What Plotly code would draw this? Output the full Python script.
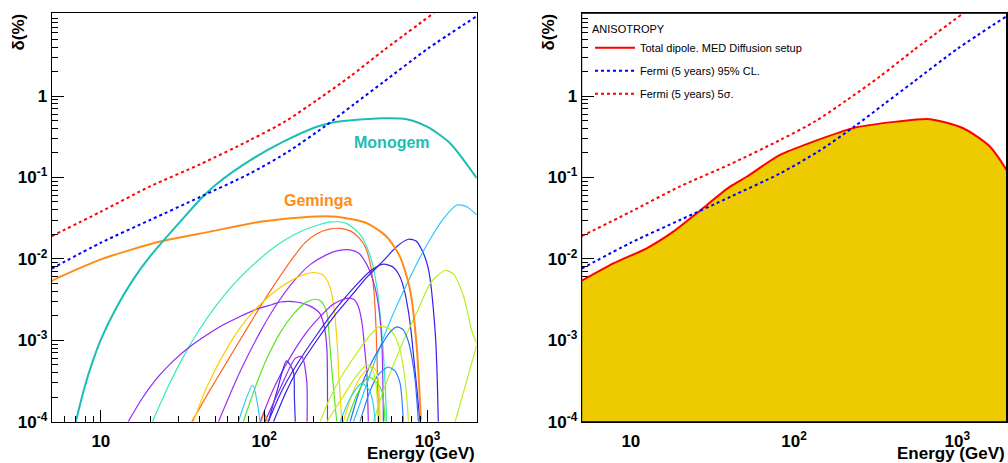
import plotly.graph_objects as go
import math

# ---------------- data (energy in GeV, dipole anisotropy delta in %) ----------------
fermi95_E = [5, 10, 20, 40.5, 82, 141, 236, 355, 536, 1000, 2000]
fermi95_d = [0.0076, 0.0158, 0.030, 0.0575, 0.112, 0.209, 0.427, 0.794, 1.48, 3.8, 9.55]

fermi5s_E = [5, 10, 20, 40.5, 82, 135, 210, 336, 537, 1096]
fermi5s_d = [0.019, 0.038, 0.0776, 0.145, 0.288, 0.49, 0.89, 1.74, 3.63, 10.5]

monogem_E = [7.02, 7.94, 8.91, 10, 12.6, 15.8, 20, 25.3, 32, 40.5, 51.2, 82, 131, 210, 263, 331, 537, 746,
             1000, 1374, 2000]
monogem_d = [1e-4, 2.63e-4, 5.5e-4, 1.02e-3, 2.63e-3, 5.6e-3, 0.0107, 0.0186, 0.0316, 0.0537, 0.0832, 0.162,
             0.275, 0.42, 0.473, 0.50, 0.533, 0.519, 0.417, 0.263, 0.098]

geminga_E = [5, 5.62, 9.9, 23, 46.6, 94.4, 191, 278, 425, 562, 679, 782, 859, 910]
geminga_d = [0.00535, 0.0060, 0.0098, 0.0163, 0.0216, 0.0286, 0.033, 0.033, 0.0274, 0.0187, 0.0106,
             0.00415, 0.00083, 1.05e-4]

total_E = [5, 7.82, 12.5, 18.2, 25.3, 40.5, 51.2, 82, 131, 236, 425, 679, 1086, 1581, 2000]
total_d = [0.0054, 0.00883, 0.0135, 0.0216, 0.0363, 0.077, 0.102, 0.189, 0.275, 0.409, 0.485, 0.519,
           0.402, 0.24, 0.124]

# other nearby pulsars (thin curves)
c01_E = [20.7, 25.1, 31.6, 39.8, 50.1, 63.1, 89.1, 126, 178, 251, 316, 386, 445, 489, 525, 550, 562]
c01_d = [1e-4, 2.4e-4, 6.0e-4, 1.32e-3, 2.57e-3, 4.57e-3, 9.1e-3, 0.0158, 0.0229, 0.0282, 0.0275, 0.020,
         0.011, 4.57e-3, 1.23e-3, 2.95e-4, 1e-4]
c02_E = [36.0, 45.7, 59.0, 75.0, 94.4, 120, 151, 178, 210, 251, 291, 339, 380, 417, 445, 470, 485, 495, 500]
c02_d = [1e-4, 2.29e-4, 5.4e-4, 1.2e-3, 2.57e-3, 5.4e-3, 0.0105, 0.0158, 0.0204, 0.0232, 0.0237, 0.0219,
         0.0182, 0.0138, 8.9e-3, 3.98e-3, 1.26e-3, 3.16e-4, 1e-4]
c03_E = [52.5, 63.1, 74.5, 94.4, 119, 151, 191, 240, 282, 336, 380, 425, 462, 489, 513, 527, 537]
c03_d = [1e-4, 2.4e-4, 5.0e-4, 1.26e-3, 2.75e-3, 5.25e-3, 8.5e-3, 0.0112, 0.0126, 0.0129, 0.0117, 8.5e-3,
         5.6e-3, 3.55e-3, 1.78e-3, 7.9e-4, 1e-4]
c04_E = [14.7, 17.8, 22.4, 28.2, 35.5, 44.7, 56.2, 70.8, 89.1, 112, 126, 158, 191, 219, 234, 242, 244]
c04_d = [1e-4, 1.9e-4, 3.55e-4, 5.75e-4, 8.5e-4, 1.17e-3, 1.55e-3, 1.95e-3, 2.4e-3, 2.75e-3, 2.95e-3,
         2.95e-3, 2.63e-3, 2.14e-3, 1.41e-3, 7.9e-4, 1e-4]
c05_E = [36.8, 44.7, 59.0, 74.1, 94.4, 120, 151, 178, 200, 224, 242, 257, 269, 279, 288, 299]
c05_d = [1e-4, 2.7e-4, 7.9e-4, 1.58e-3, 2.75e-3, 4.17e-3, 5.6e-3, 6.5e-3, 6.8e-3, 6.5e-3, 5.5e-3, 3.98e-3,
         2.24e-3, 1e-3, 3.16e-4, 1e-4]
c06_E = [74.5, 89.1, 104, 126, 151, 178, 205, 224, 242, 251, 263, 278]
c06_d = [1e-4, 2.8e-4, 6.0e-4, 1.26e-3, 2.09e-3, 2.88e-3, 3.19e-3, 3.0e-3, 2.19e-3, 1e-3, 3.16e-4, 1e-4]
c07_E = [114, 135, 158, 210, 269, 336, 427, 537, 646, 764, 851, 944, 1000, 1038, 1084, 1122, 1148, 1164]
c07_d = [1e-4, 2.24e-4, 4.17e-4, 1e-3, 2e-3, 3.39e-3, 6.0e-3, 9.5e-3, 0.0141, 0.0174, 0.0166, 0.0117,
         8.3e-3, 5.6e-3, 2.5e-3, 1e-3, 3.16e-4, 1e-4]
c08_E = [106, 126, 158, 210, 278, 355, 447, 537, 617, 679, 724, 764, 794, 822, 861, 899]
c08_d = [1e-4, 2.24e-4, 5.0e-4, 1.17e-3, 2.51e-3, 4.47e-3, 7.1e-3, 8.6e-3, 7.9e-3, 6.0e-3, 3.98e-3, 2.24e-3,
         1.26e-3, 6.3e-4, 2.5e-4, 1e-4]
c09_E = [94.4, 115, 151, 182, 220, 263, 320, 355, 376, 398, 412, 425, 434]
c09_d = [1e-4, 2.63e-4, 7.2e-4, 1.26e-3, 1.95e-3, 2.75e-3, 3.28e-3, 3.16e-3, 2.63e-3, 1.58e-3, 7.9e-4,
         3.98e-4, 1e-4]
c10_E = [106, 120, 137, 151, 153, 155]
c10_d = [1e-4, 2.4e-4, 5.6e-4, 4.1e-4, 2e-4, 1e-4]
c11_E = [101, 126, 155, 170, 182, 183]
c11_d = [1e-4, 2.63e-4, 6.0e-4, 6.3e-4, 3.2e-4, 1e-4]
c12_E = [69.5, 85, 94.4]
c12_d = [1e-4, 2.8e-4, 1e-4]
c13_E = [95.5, 100, 104.7]
c13_d = [1e-4, 1.26e-4, 1e-4]
c14_E = [352, 398, 445, 525, 618, 759, 912, 1096, 1259, 1510, 1738, 2000]
c14_d = [1e-4, 2.0e-4, 3.8e-4, 9.5e-4, 2.14e-3, 5.25e-3, 0.011, 0.0209, 0.0316, 0.0459, 0.0437, 0.0347]
c15_E = [466, 537, 679, 859, 1038, 1148, 1282, 1445, 1656, 1778, 1862, 2000]
c15_d = [1e-4, 2.4e-4, 7.9e-4, 2.19e-3, 5.0e-3, 6.2e-3, 7.2e-3, 6.5e-3, 3.55e-3, 2.0e-3, 1.32e-3, 9.1e-4]
c16_E = [1476, 1738, 2000]
c16_d = [1e-4, 3.2e-4, 8.7e-4]
c17_E = [220, 251, 302, 386, 447, 512, 575, 631, 684, 724, 750, 764]
c17_d = [1e-4, 1.9e-4, 3.8e-4, 7.9e-4, 1.17e-3, 1.48e-3, 1.41e-3, 1.12e-3, 7.1e-4, 3.55e-4, 1.78e-4, 1e-4]
c18_E = [336, 386, 447, 525, 589, 649, 708, 759, 804, 841, 879]
c18_d = [1e-4, 2.5e-4, 5.0e-4, 8.9e-4, 1.26e-3, 1.46e-3, 1.35e-3, 1e-3, 6.0e-4, 3.16e-4, 1e-4]
c19_E = [386, 445, 501, 575, 631, 679, 711]
c19_d = [1e-4, 2.4e-4, 3.8e-4, 4.7e-4, 4.2e-4, 2.95e-4, 1e-4]
c20_E = [305, 352, 398, 455, 484, 500, 512]
c20_d = [1e-4, 2.4e-4, 3.8e-4, 4.8e-4, 4.2e-4, 3.16e-4, 1e-4]
c21_E = [320, 372, 434, 490, 525, 550]
c21_d = [1e-4, 2.2e-4, 3.55e-4, 3.0e-4, 2.4e-4, 1e-4]
c22_E = [291, 339, 395, 437, 462, 478]
c22_d = [1e-4, 2.0e-4, 2.95e-4, 2.5e-4, 1.78e-4, 1e-4]
c23_E = [242, 302, 363, 425, 457, 484, 501]
c23_d = [1e-4, 2.0e-4, 3.55e-4, 5.0e-4, 4.5e-4, 2.8e-4, 1e-4]

x_tick_vals = [10, 100, 1000]
x_tick_text = ["10", "10<sup>2</sup>", "10<sup>3</sup>"]
y_tick_vals = [1e-4, 1e-3, 1e-2, 1e-1, 1]
y_tick_text = ["10<sup>-4</sup>", "10<sup>-3</sup>", "10<sup>-2</sup>", "10<sup>-1</sup>", "1"]

E_MIN, E_MAX = 5, 2000
D_MIN, D_MAX = 1e-4, 10.38

# ---------------- styles ----------------
thin_curves = [
    (c01_E, c01_d, "rgb(50,235,190)"),
    (c02_E, c02_d, "rgb(255,100,30)"),
    (c03_E, c03_d, "rgb(150,50,250)"),
    (c04_E, c04_d, "rgb(140,40,250)"),
    (c05_E, c05_d, "rgb(255,205,0)"),
    (c06_E, c06_d, "rgb(90,230,30)"),
    (c07_E, c07_d, "rgb(50,30,240)"),
    (c08_E, c08_d, "rgb(60,30,230)"),
    (c09_E, c09_d, "rgb(160,40,240)"),
    (c10_E, c10_d, "rgb(50,40,240)"),
    (c11_E, c11_d, "rgb(150,40,240)"),
    (c12_E, c12_d, "rgb(40,200,250)"),
    (c13_E, c13_d, "rgb(255,100,30)"),
    (c14_E, c14_d, "rgb(40,200,255)"),
    (c15_E, c15_d, "rgb(180,240,30)"),
    (c16_E, c16_d, "rgb(180,240,30)"),
    (c17_E, c17_d, "rgb(190,240,30)"),
    (c18_E, c18_d, "rgb(40,110,250)"),
    (c19_E, c19_d, "rgb(50,130,250)"),
    (c20_E, c20_d, "rgb(255,210,0)"),
    (c21_E, c21_d, "rgb(80,230,30)"),
    (c22_E, c22_d, "rgb(40,210,240)"),
    (c23_E, c23_d, "rgb(190,240,30)"),
]
MONOGEM_C = "rgb(25,190,180)"
GEMINGA_C = "rgb(255,140,25)"
FILL_C = "rgb(237,203,0)"
FONT = "Liberation Sans, Arial, sans-serif"
DASH = "3px,3px"
SPL = dict(shape="spline", smoothing=0.7)

fig = go.Figure()

# ---------------- left panel ----------------
for E, d, col in thin_curves:
    fig.add_trace(go.Scatter(x=E, y=d, mode="lines", line=dict(color=col, width=1.2, **SPL),
                             showlegend=False, hoverinfo="skip", xaxis="x", yaxis="y"))
fig.add_trace(go.Scatter(x=geminga_E, y=geminga_d, mode="lines", line=dict(color=GEMINGA_C, width=2, **SPL),
                         showlegend=False, xaxis="x", yaxis="y"))
fig.add_trace(go.Scatter(x=monogem_E, y=monogem_d, mode="lines", line=dict(color=MONOGEM_C, width=2, **SPL),
                         showlegend=False, xaxis="x", yaxis="y"))
fig.add_trace(go.Scatter(x=fermi95_E, y=fermi95_d, mode="lines", line=dict(color="blue", width=2, dash=DASH, **SPL),
                         showlegend=False, xaxis="x", yaxis="y"))
fig.add_trace(go.Scatter(x=fermi5s_E, y=fermi5s_d, mode="lines", line=dict(color="red", width=2, dash=DASH, **SPL),
                         showlegend=False, xaxis="x", yaxis="y"))

# ---------------- right panel ----------------
baseline = [D_MIN / 10 for _ in total_E]
fig.add_trace(go.Scatter(x=total_E, y=baseline, mode="lines", line=dict(width=0, color=FILL_C),
                         showlegend=False, hoverinfo="skip", xaxis="x2", yaxis="y2"))
fig.add_trace(go.Scatter(x=total_E, y=total_d, mode="lines", fill="tonexty", fillcolor=FILL_C,
                         line=dict(width=0, color=FILL_C, **SPL), showlegend=False, hoverinfo="skip",
                         xaxis="x2", yaxis="y2"))
fig.add_trace(go.Scatter(x=total_E, y=total_d, mode="lines", line=dict(color="red", width=2, **SPL),
                         name="Total dipole. MED Diffusion setup", legendgroup="a", xaxis="x2", yaxis="y2"))
fig.add_trace(go.Scatter(x=fermi95_E, y=fermi95_d, mode="lines", line=dict(color="blue", width=2, dash=DASH, **SPL),
                         name="Fermi (5 years) 95% CL.", legendgroup="b", xaxis="x2", yaxis="y2"))
fig.add_trace(go.Scatter(x=fermi5s_E, y=fermi5s_d, mode="lines", line=dict(color="red", width=2, dash=DASH, **SPL),
                         name="Fermi (5 years) 5σ.", legendgroup="c", xaxis="x2", yaxis="y2"))

x_minor = [m * 10 ** k for k in range(0, 4) for m in range(2, 10) if E_MIN < m * 10 ** k < E_MAX]
y_minor = [m * 10.0 ** k for k in range(-4, 1) for m in range(2, 10)]


def xaxis(domain, layer):
    return dict(type="log", domain=domain, range=[math.log10(E_MIN), math.log10(E_MAX)], automargin=False,
                showline=True, mirror=True, linecolor="black", linewidth=1,
                ticks="inside", ticklen=12, tickwidth=1, tickcolor="black",
                tickmode="array", tickvals=x_tick_vals, ticktext=[f"<b>{t}</b>" for t in x_tick_text],
                tickfont=dict(family=FONT, size=17, color="black"), ticklabelstandoff=4,
                minor=dict(ticks="inside", ticklen=6, tickwidth=1, tickcolor="black", tickvals=x_minor,
                           showgrid=False),
                showgrid=False, zeroline=False, layer=layer)


def yaxis(anchor, layer):
    return dict(type="log", domain=[1 - 421.7 / 463, 1 - 13.3 / 463], anchor=anchor, automargin=False,
                range=[math.log10(D_MIN), math.log10(D_MAX)],
                showline=True, mirror=True, linecolor="black", linewidth=1,
                ticks="inside", ticklen=12, tickwidth=1, tickcolor="black",
                tickmode="array", tickvals=y_tick_vals, ticktext=[f"<b>{t}</b>" for t in y_tick_text],
                tickfont=dict(family=FONT, size=17, color="black"), ticklabelstandoff=0,
                minor=dict(ticks="inside", ticklen=6, tickwidth=1, tickcolor="black", tickvals=y_minor,
                           showgrid=False),
                showgrid=False, zeroline=False, layer=layer)


L_DOM = [51.7 / 1008, 476.7 / 1008]
R_DOM = [581.7 / 1008, 1006.5 / 1008]

annotations = [
    dict(text="<b>Monogem</b>", x=392 / 1008, y=1 - 143 / 463, xref="paper", yref="paper",
         xanchor="center", yanchor="middle", showarrow=False, font=dict(family=FONT, size=16, color=MONOGEM_C)),
    dict(text="<b>Geminga</b>", x=318 / 1008, y=1 - 200 / 463, xref="paper", yref="paper",
         xanchor="center", yanchor="middle", showarrow=False, font=dict(family=FONT, size=16, color=GEMINGA_C)),
]
for xl, xr in [(18, 476.5), (548, 1006.5)]:
    annotations.append(dict(text="<b>δ(%)</b>", x=xl / 1008, y=1 - 12 / 463, xref="paper", yref="paper",
                            xanchor="center", yanchor="top", textangle=-90, showarrow=False,
                            font=dict(family=FONT, size=17, color="black")))
    annotations.append(dict(text="<b>Energy (GeV)</b>", x=xr / 1008, y=1 - 453 / 463, xref="paper", yref="paper",
                            xanchor="right", yanchor="middle", showarrow=False,
                            font=dict(family=FONT, size=17, color="black")))

fig.update_layout(
    width=1008, height=463,
    margin=dict(l=0, r=0, t=0, b=0, autoexpand=False),
    paper_bgcolor="white", plot_bgcolor="white",
    xaxis=xaxis(L_DOM, "above traces"),
    yaxis=yaxis("x", "above traces"),
    xaxis2=dict(xaxis(R_DOM, "below traces"), anchor="y2"),
    yaxis2=yaxis("x2", "below traces"),
    annotations=annotations,
    showlegend=True,
    legend=dict(x=590 / 1008, y=1 - 19 / 463, xanchor="left", yanchor="top",
                bgcolor="rgba(0,0,0,0)", borderwidth=0, itemwidth=40,
                title=dict(text="ANISOTROPY", font=dict(family=FONT, size=11, color="black")),
                font=dict(family=FONT, size=11, color="black"),
                traceorder="grouped", tracegroupgap=4),
    shapes=[dict(type="rect", xref="x2 domain", yref="y2 domain", x0=0, x1=1, y0=0, y1=1,
                 line=dict(color="black", width=1), layer="above")],
)

fig.write_html("out.html")
